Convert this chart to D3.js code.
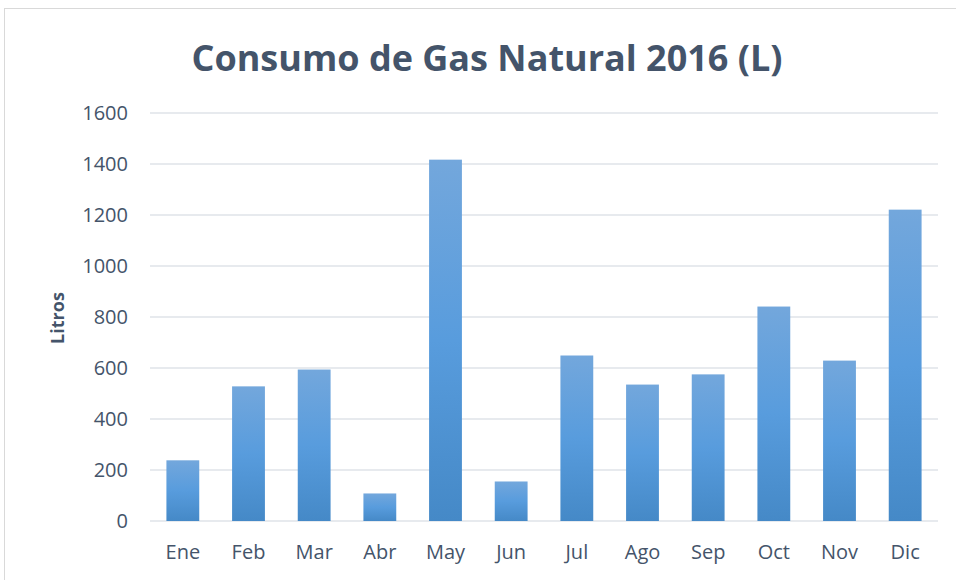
<!DOCTYPE html>
<html lang="es">
<head>
<meta charset="UTF-8">
<title>Consumo de Gas Natural 2016</title>
<script src="https://d3js.org/d3.v7.min.js"></script>
<style>
  body { margin: 0; background: #fff; }
  text { font-family: "Open Sans", "Noto Sans", sans-serif; }
</style>
</head>
<body>
<div id="chart"></div>
<script>
// data
var meses = ["Ene", "Feb", "Mar", "Abr", "May", "Jun", "Jul", "Ago", "Sep", "Oct", "Nov", "Dic"];
var litros = [238, 528, 594, 108, 1417, 155, 649, 535, 575, 841, 629, 1221];
var yTicks = [0, 200, 400, 600, 800, 1000, 1200, 1400, 1600];

var W = 956, H = 580;
var margin = {top: 113, right: 18, bottom: 59, left: 150};
var width = W - margin.left - margin.right,
    height = H - margin.top - margin.bottom;

var svg = d3.select("#chart").append("svg")
  .attr("width", W)
  .attr("height", H);

// gradient fill for bars
var grad = svg.append("defs").append("linearGradient")
  .attr("id", "barGrad")
  .attr("x1", 0).attr("y1", 0).attr("x2", 0).attr("y2", 1);
grad.append("stop").attr("offset", "0%").attr("stop-color", "#73a7dc");
grad.append("stop").attr("offset", "50%").attr("stop-color", "#589cdd");
grad.append("stop").attr("offset", "100%").attr("stop-color", "#4589c7");

// outer frame
svg.append("rect")
  .attr("x", 4.5).attr("y", 8.5)
  .attr("width", W + 10).attr("height", H + 10)
  .attr("fill", "none")
  .attr("stroke", "#d9d9d9")
  .attr("stroke-width", 1);

var g = svg.append("g")
  .attr("transform", "translate(" + margin.left + "," + margin.top + ")");

var x = d3.scaleBand()
  .domain(meses)
  .range([0, width])
  .paddingInner(0.5)
  .paddingOuter(0.25);

var y = d3.scaleLinear()
  .domain([0, 1600])
  .range([height, 0]);

// gridlines
g.append("g")
  .selectAll("line")
  .data(yTicks)
  .enter()
  .append("line")
    .attr("x1", 0)
    .attr("x2", width)
    .attr("y1", function(d) { return y(d); })
    .attr("y2", function(d) { return y(d); })
    .attr("stroke", "#dfe3e8")
    .attr("stroke-width", 1.5);

// y axis labels
var yAxis = g.append("g")
  .call(d3.axisLeft(y).tickValues(yTicks).tickFormat(d3.format("d")).tickSize(0).tickPadding(22));
yAxis.select(".domain").remove();
yAxis.selectAll("text")
  .attr("fill", "#44546a")
  .style("font-size", "20px");

// x axis labels
var xAxis = g.append("g")
  .attr("transform", "translate(0," + height + ")")
  .call(d3.axisBottom(x).tickSize(0).tickPadding(24));
xAxis.select(".domain").remove();
xAxis.selectAll("text")
  .attr("fill", "#44546a")
  .style("font-size", "20px");

// bars
g.append("g")
  .selectAll("rect")
  .data(litros)
  .enter()
  .append("rect")
    .attr("x", function(d, i) { return x(meses[i]); })
    .attr("y", function(d) { return y(d); })
    .attr("width", x.bandwidth())
    .attr("height", function(d) { return height - y(d); })
    .attr("fill", "url(#barGrad)");

// title
svg.append("text")
  .attr("x", 487)
  .attr("y", 71)
  .attr("text-anchor", "middle")
  .attr("fill", "#44546a")
  .style("font-size", "36px")
  .style("font-weight", "bold")
  .text("Consumo de Gas Natural 2016 (L)");

// y axis title
svg.append("text")
  .attr("transform", "translate(64,318) rotate(-90)")
  .attr("text-anchor", "middle")
  .attr("fill", "#44546a")
  .style("font-size", "18px")
  .style("font-weight", "bold")
  .text("Litros");
</script>
</body>
</html>
